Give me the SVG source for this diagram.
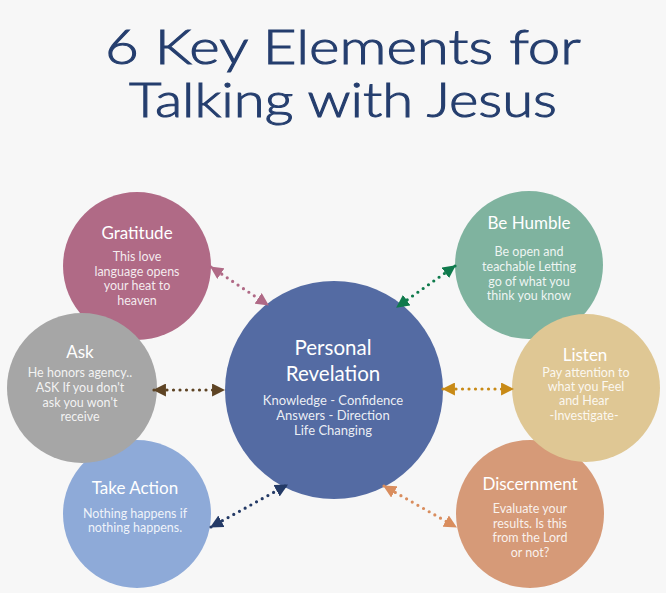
<svg xmlns="http://www.w3.org/2000/svg" width="666" height="593" viewBox="0 0 666 593">
<defs>
<style>
.title{font-family:Lato,"Open Sans",sans-serif;font-size:47px;font-weight:300;fill:#253e6e;stroke:#253e6e;stroke-width:1;text-anchor:middle}
.h{font-family:Lato,"Open Sans",sans-serif;font-size:17px;fill:#ffffff;text-anchor:middle}
.b{font-family:Lato,"Open Sans",sans-serif;font-size:12.5px;fill:#ffffff;fill-opacity:0.88;text-anchor:middle}
.ch{font-family:Lato,"Open Sans",sans-serif;font-size:20.5px;fill:#ffffff;text-anchor:middle}
.cb{font-family:Lato,"Open Sans",sans-serif;font-size:13px;fill:#ffffff;fill-opacity:0.9;text-anchor:middle}
.dot{fill:none;stroke-width:3.2;stroke-linecap:round;stroke-dasharray:0 6.5}
</style>
<marker id="mPink" viewBox="0 0 12 12" refX="11" refY="6" markerWidth="13" markerHeight="13" markerUnits="userSpaceOnUse" orient="auto-start-reverse"><path d="M0,0 L12,6 L0,12 Z" fill="#b06a86"/></marker>
<marker id="mGreen" viewBox="0 0 12 12" refX="11" refY="6" markerWidth="13" markerHeight="13" markerUnits="userSpaceOnUse" orient="auto-start-reverse"><path d="M0,0 L12,6 L0,12 Z" fill="#0f7a4c"/></marker>
<marker id="mBrown" viewBox="0 0 12 12" refX="11" refY="6" markerWidth="13" markerHeight="13" markerUnits="userSpaceOnUse" orient="auto-start-reverse"><path d="M0,0 L12,6 L0,12 Z" fill="#5e4424"/></marker>
<marker id="mGold" viewBox="0 0 12 12" refX="11" refY="6" markerWidth="13" markerHeight="13" markerUnits="userSpaceOnUse" orient="auto-start-reverse"><path d="M0,0 L12,6 L0,12 Z" fill="#c88a16"/></marker>
<marker id="mNavy" viewBox="0 0 12 12" refX="11" refY="6" markerWidth="13" markerHeight="13" markerUnits="userSpaceOnUse" orient="auto-start-reverse"><path d="M0,0 L12,6 L0,12 Z" fill="#243a66"/></marker>
<marker id="mSalmon" viewBox="0 0 12 12" refX="11" refY="6" markerWidth="13" markerHeight="13" markerUnits="userSpaceOnUse" orient="auto-start-reverse"><path d="M0,0 L12,6 L0,12 Z" fill="#d98d5e"/></marker>
</defs>
<rect width="666" height="593" fill="#f7f7f7"/>
<g id="title">
<text class="title" x="343" y="64" textLength="476" lengthAdjust="spacingAndGlyphs">6 Key Elements for</text>
<text class="title" x="343" y="117" textLength="428" lengthAdjust="spacingAndGlyphs">Talking with Jesus</text>
</g>
<g id="gratitude">
<circle cx="137" cy="266" r="74" fill="#b06a86"/>
<text class="h" x="137" y="239">Gratitude</text>
<text class="b" x="137" y="261">This love</text>
<text class="b" x="137" y="276">language opens</text>
<text class="b" x="137" y="290">your heat to</text>
<text class="b" x="137" y="305">heaven</text>
</g>
<g id="take-action">
<circle cx="137" cy="514" r="74" fill="#8eaad8"/>
<text class="h" x="135" y="494">Take Action</text>
<text class="b" x="135" y="518">Nothing happens if</text>
<text class="b" x="135" y="532">nothing happens.</text>
</g>
<g id="ask">
<circle cx="82" cy="388" r="75" fill="#a6a6a6"/>
<text class="h" x="80" y="358">Ask</text>
<text class="b" x="80" y="377">He honors agency..</text>
<text class="b" x="80" y="392">ASK  If you don't</text>
<text class="b" x="80" y="407">ask you won't</text>
<text class="b" x="80" y="421">receive</text>
</g>
<g id="be-humble">
<circle cx="529" cy="265" r="74" fill="#7fb39f"/>
<text class="h" x="529" y="229">Be Humble</text>
<text class="b" x="529" y="256">Be open and</text>
<text class="b" x="529" y="271">teachable Letting</text>
<text class="b" x="529" y="286">go of what you</text>
<text class="b" x="529" y="300">think you know</text>
</g>
<g id="discernment">
<circle cx="530" cy="514" r="74" fill="#d69a78"/>
<text class="h" x="530" y="490">Discernment</text>
<text class="b" x="530" y="513">Evaluate your</text>
<text class="b" x="530" y="528">results.  Is this</text>
<text class="b" x="530" y="542">from the Lord</text>
<text class="b" x="530" y="557">or not?</text>
</g>
<g id="listen">
<circle cx="586" cy="388" r="74" fill="#dfc794"/>
<text class="h" x="585" y="361">Listen</text>
<text class="b" x="586" y="377">Pay attention to</text>
<text class="b" x="586" y="391">what you Feel</text>
<text class="b" x="584" y="405">and Hear</text>
<text class="b" x="584" y="420">-Investigate-</text>
</g>
<g id="personal-revelation">
<circle cx="334" cy="390" r="109" fill="#546ba3"/>
<text class="ch" x="333" y="355">Personal</text>
<text class="ch" x="333" y="381">Revelation</text>
<text class="cb" x="333" y="405">Knowledge - Confidence</text>
<text class="cb" x="333" y="420">Answers - Direction</text>
<text class="cb" x="333" y="435">Life Changing</text>
</g>
<g id="connectors">
<line class="dot" x1="211" y1="267" x2="268" y2="305" stroke="#b06a86" marker-start="url(#mPink)" marker-end="url(#mPink)"/>
<line class="dot" x1="455" y1="266" x2="397" y2="307" stroke="#0f7a4c" marker-start="url(#mGreen)" marker-end="url(#mGreen)"/>
<line class="dot" x1="154" y1="390" x2="224" y2="390" stroke="#5e4424" marker-start="url(#mBrown)" marker-end="url(#mBrown)"/>
<line class="dot" x1="443" y1="389" x2="513" y2="389" stroke="#c88a16" marker-start="url(#mGold)" marker-end="url(#mGold)"/>
<line class="dot" x1="211" y1="527" x2="287" y2="485" stroke="#243a66" marker-start="url(#mNavy)" marker-end="url(#mNavy)"/>
<line class="dot" x1="384" y1="486" x2="456" y2="527" stroke="#d98d5e" marker-start="url(#mSalmon)" marker-end="url(#mSalmon)"/>
</g>
</svg>
